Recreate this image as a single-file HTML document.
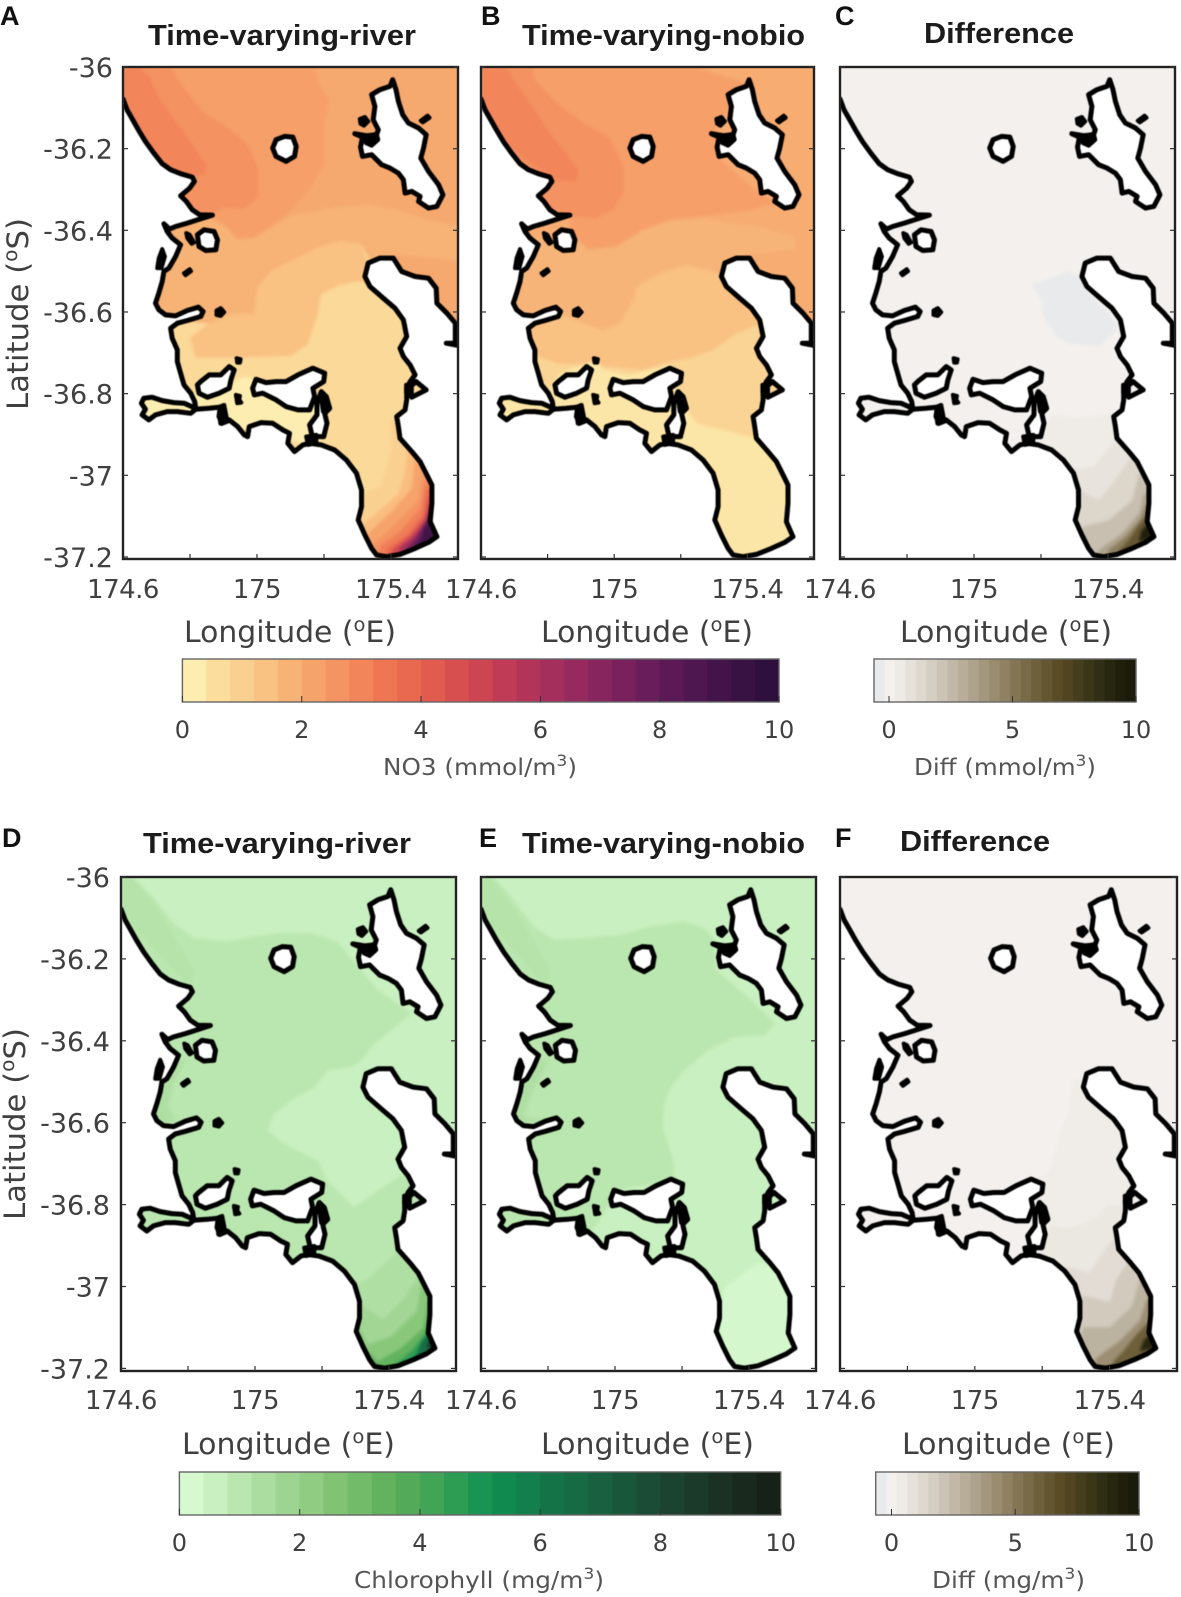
<!DOCTYPE html>
<html lang="en">
<head>
<meta charset="utf-8">
<title>NO3 and chlorophyll maps</title>
<style>
html,body{margin:0;padding:0;background:#fff;width:1181px;height:1597px;overflow:hidden}
svg{display:block}
text{font-family:"DejaVu Sans","Liberation Sans",sans-serif;fill:#404040}
.ttl{font-family:"Liberation Sans",sans-serif;font-weight:bold;font-size:29px;fill:#1c1c1c}
.let{font-family:"Liberation Sans",sans-serif;font-weight:bold;font-size:27px;fill:#111}
.axl{font-size:29px}
.cbl{font-size:23px;fill:#555}
</style>
</head>
<body>
<svg id="fig" xmlns="http://www.w3.org/2000/svg" width="1181" height="1597" viewBox="0 0 1181 1597">
<rect width="1181" height="1597" fill="#fff"/>

<text class="let" x="0" y="25">A</text>
<text class="let" x="481" y="25">B</text>
<text class="let" x="835" y="25">C</text>
<text class="let" x="2" y="847">D</text>
<text class="let" x="479" y="847">E</text>
<text class="let" x="835" y="847">F</text>

<text class="ttl" x="148" y="45" textLength="268" lengthAdjust="spacingAndGlyphs">Time-varying-river</text>
<text class="ttl" x="522" y="45" textLength="283" lengthAdjust="spacingAndGlyphs">Time-varying-nobio</text>
<text class="ttl" x="924" y="43" textLength="150" lengthAdjust="spacingAndGlyphs">Difference</text>
<text class="ttl" x="143" y="853" textLength="268" lengthAdjust="spacingAndGlyphs">Time-varying-river</text>
<text class="ttl" x="522" y="853" textLength="283" lengthAdjust="spacingAndGlyphs">Time-varying-nobio</text>
<text class="ttl" x="900" y="851" textLength="150" lengthAdjust="spacingAndGlyphs">Difference</text>

<text class="axl" transform="translate(28,410) rotate(-90)" textLength="192" lengthAdjust="spacingAndGlyphs">Latitude (<tspan font-size="19" dy="-11">o</tspan><tspan dy="11">S)</tspan></text>
<text class="axl" transform="translate(25,1220) rotate(-90)" textLength="192" lengthAdjust="spacingAndGlyphs">Latitude (<tspan font-size="19" dy="-11">o</tspan><tspan dy="11">S)</tspan></text>

<text class="axl" x="184" y="642" textLength="212" lengthAdjust="spacingAndGlyphs">Longitude (<tspan font-size="19" dy="-11">o</tspan><tspan dy="11">E)</tspan></text>
<text class="axl" x="541" y="642" textLength="212" lengthAdjust="spacingAndGlyphs">Longitude (<tspan font-size="19" dy="-11">o</tspan><tspan dy="11">E)</tspan></text>
<text class="axl" x="900" y="642" textLength="212" lengthAdjust="spacingAndGlyphs">Longitude (<tspan font-size="19" dy="-11">o</tspan><tspan dy="11">E)</tspan></text>
<text class="axl" x="182" y="1454" textLength="213" lengthAdjust="spacingAndGlyphs">Longitude (<tspan font-size="19" dy="-11">o</tspan><tspan dy="11">E)</tspan></text>
<text class="axl" x="541" y="1454" textLength="213" lengthAdjust="spacingAndGlyphs">Longitude (<tspan font-size="19" dy="-11">o</tspan><tspan dy="11">E)</tspan></text>
<text class="axl" x="902" y="1454" textLength="213" lengthAdjust="spacingAndGlyphs">Longitude (<tspan font-size="19" dy="-11">o</tspan><tspan dy="11">E)</tspan></text>

<text class="cbl" x="383" y="775" textLength="194" lengthAdjust="spacingAndGlyphs">NO3 (mmol/m<tspan font-size="16" dy="-9">3</tspan><tspan dy="9">)</tspan></text>
<text class="cbl" x="914" y="775" textLength="182" lengthAdjust="spacingAndGlyphs">Diff (mmol/m<tspan font-size="16" dy="-9">3</tspan><tspan dy="9">)</tspan></text>
<text class="cbl" x="354" y="1588" textLength="250" lengthAdjust="spacingAndGlyphs">Chlorophyll (mg/m<tspan font-size="16" dy="-9">3</tspan><tspan dy="9">)</tspan></text>
<text class="cbl" x="932" y="1588" textLength="153" lengthAdjust="spacingAndGlyphs">Diff (mg/m<tspan font-size="16" dy="-9">3</tspan><tspan dy="9">)</tspan></text>
</svg>

<script>
// ---- axis ticks ----
const latTicks = [-36, -36.2, -36.4, -36.6, -36.8, -37, -37.2];
const lonTicks = [174.8, 175, 175.2, 175.4];
const lonLabels = [174.6, 175, 175.4];
const no3Ticks = [0, 2, 4, 6, 8, 10];
const diffTicks = [0, 5, 10];

// ---- colormaps (25 discrete colorbar steps) ----
const matterColors = [[253,237,176],[251,222,158],[250,208,144],[249,193,130],[247,178,118],[246,163,107],[244,148,98],[242,133,90],[238,118,83],[233,104,80],[226,91,79],[216,79,80],[205,69,83],[192,60,86],[178,53,89],[164,47,92],[150,42,94],[135,37,94],[120,33,93],[105,29,90],[91,26,85],[78,23,79],[66,20,73],[55,18,66],[47,15,61]];
const algaeColors = [[215,249,208],[201,240,192],[186,230,175],[172,221,160],[158,212,145],[144,204,130],[129,195,115],[114,187,105],[98,178,94],[83,171,90],[66,164,87],[46,157,84],[26,148,82],[17,138,79],[18,127,76],[20,116,72],[22,106,68],[24,96,63],[26,86,58],[27,76,53],[28,67,47],[28,58,41],[27,49,35],[25,41,30],[24,33,24]];
const diffColors = [[232,234,236],[243,240,237],[238,234,229],[230,225,218],[222,216,206],[213,206,194],[203,195,181],[193,184,167],[183,173,153],[173,162,139],[163,151,125],[153,140,111],[143,129,97],[132,118,84],[121,107,71],[110,96,59],[100,86,48],[90,77,38],[80,69,32],[69,62,28],[58,54,24],[48,46,20],[39,38,15],[31,31,12],[26,27,10]];

// ---- coastline, in model-grid indices (lon = 174.6 + (i-33)*0.001, lat = -36 - (j-22)*0.000817) ----
const mainlandCoast = [[33,118],[45,150],[62,180],[80,212],[100,245],[125,280],[150,312],[175,330],[205,342],[240,352],[246,365],[232,385],[205,408],[222,425],[240,450],[262,465],[300,466],[262,478],[225,490],[190,500],[172,508],[155,492],[165,515],[180,535],[205,555],[190,590],[170,625],[155,635],[150,665],[140,700],[130,730],[140,750],[160,765],[190,768],[225,752],[258,742],[272,755],[265,770],[225,782],[195,790],[175,805],[180,835],[195,870],[195,905],[205,940],[215,975],[235,1000],[247,1025],[250,1045],[215,1030],[185,1028],[150,1022],[120,1012],[95,1015],[88,1030],[100,1048],[90,1065],[110,1080],[130,1065],[165,1055],[195,1055],[235,1060],[250,1048],[290,1045],[320,1042],[330,1040],[322,1065],[325,1090],[350,1080],[375,1100],[395,1125],[405,1130],[410,1100],[445,1088],[480,1090],[510,1110],[530,1120],[525,1150],[545,1175],[570,1155],[590,1150],[625,1155],[665,1170],[700,1200],[730,1240],[745,1290],[745,1340],[735,1380],[755,1425],[775,1465],[790,1485],[820,1490],[860,1483],[905,1465],[945,1447],[970,1430],[950,1385],[955,1330],[955,1275],[935,1235],[920,1205],[895,1175],[860,1135],[855,1100],[850,1070],[875,1050],[880,1020],[880,985],[890,965],[905,945],[890,915],[870,890],[860,865],[880,830],[870,780],[845,745],[810,715],[770,680],[755,650],[765,610],[800,595],[840,595],[865,635],[905,650],[945,655],[968,685],[970,730],[1000,760],[1025,790],[1025,850],[998,850],[1040,858]];
const waterPockets = [[[885,985],[908,965],[938,990],[895,1012]]];
const islands = [
  [[838,60],[848,90],[855,125],[868,165],[885,190],[915,205],[938,225],[930,265],[922,295],[945,335],[975,375],[988,405],[970,440],[945,445],[915,425],[920,410],[895,395],[875,400],[870,360],[855,340],[830,325],[805,315],[775,285],[748,290],[742,262],[748,232],[725,222],[760,228],[790,225],[795,210],[780,180],[785,140],[775,105],[800,90],[830,80]],
  [[490,240],[515,230],[540,232],[550,260],[545,290],[520,305],[490,290],[480,265]],
  [[255,525],[275,510],[305,515],[315,540],[310,570],[280,572],[260,560]],
  [[265,965],[290,945],[325,945],[350,920],[365,930],[355,960],[350,985],[320,1000],[285,1012],[260,1000],[255,975]],
  [[420,985],[430,958],[460,968],[490,965],[520,965],[555,945],[600,925],[635,940],[632,965],[600,985],[605,1010],[590,1050],[555,1050],[520,1040],[490,1020],[450,1000],[425,1005]],
  [[625,995],[640,1010],[650,1045],[635,1060],[642,1090],[632,1130],[598,1130],[590,1095],[612,1065],[612,1030]]
];
const rocks = [
  [[922,183],[942,168],[948,174],[928,188]],
  [[215,640],[232,628],[236,634],[220,646]],
  [[312,752],[325,745],[335,757],[325,768],[312,765]],
  [[372,895],[384,898],[382,908],[374,908]],
  [[370,1005],[382,1008],[380,1020],[386,1028],[374,1030]],
  [[740,178],[755,172],[765,185],[752,198],[742,192]],
  [[752,232],[790,222],[795,240],[775,258],[758,250]],
  [[222,520],[232,525],[245,548],[238,552],[225,535]],
  [[322,1040],[335,1035],[345,1085],[328,1092],[318,1070]],
  [[150,568],[158,590],[148,625],[135,625],[140,595]],
  [[580,1130],[610,1125],[610,1150],[585,1155]],
  [[878,975],[895,975],[895,1000],[878,998]],
  [[622,1000],[636,1005],[648,1045],[630,1055]]
];

// ---- panel A: NO3, time-varying-river ----
const fieldABase = 2.05;
const fieldAValues = [2.3,2.65,3.0,1.8,0.75,1.4,0.2,0.2,1.0,1.5,2.2,2.6,3.2,3.8,4.8,6.0,7.5,9.0];
const fieldAContours = [
  [[33,22],[609,22],[614,63],[649,123],[634,193],[634,313],[594,383],[534,453],[474,503],[424,533],[374,538],[344,503],[304,473],[33,420]],
  [[174,22],[224,98],[274,158],[344,203],[404,253],[436,323],[436,413],[394,448],[334,443],[294,463],[33,420],[33,22]],
  [[79,22],[114,53],[134,103],[174,163],[224,233],[284,318],[274,345],[180,350],[33,200],[33,22]],
  [[290,480],[344,503],[374,538],[424,533],[474,503],[534,468],[664,443],[764,433],[864,453],[934,478],[1034,498],[1034,603],[934,593],[844,583],[780,620],[830,680],[900,780],[960,1000],[1040,1530],[33,1530],[33,480]],
  [[33,780],[150,780],[290,790],[354,763],[424,760],[434,683],[474,633],[534,603],[614,563],[684,543],[744,553],[780,620],[830,680],[900,780],[960,1000],[1040,1530],[33,1530]],
  [[534,603],[614,563],[684,543],[744,553],[760,600],[760,680],[749,663],[684,673],[624,703],[614,763],[584,853],[534,888],[374,893],[249,893],[234,833],[290,790],[354,763],[424,760],[434,683],[474,633]],
  [[250,1000],[300,1020],[370,960],[400,950],[430,960],[600,1000],[650,1100],[600,1170],[500,1120],[330,1100],[250,1060]],
  [[85,1000],[250,1000],[250,1070],[85,1090]],
  [[829,1083],[834,1163],[804,1278],[744,1303],[700,1530],[1040,1530],[1040,1083]],
  [[884,1158],[874,1243],[854,1303],[774,1373],[749,1393],[749,1530],[1040,1530],[1040,1158]],
  [[905,1200],[895,1285],[840,1350],[765,1420],[760,1530],[1040,1530],[1040,1200]],
  [[929,1243],[914,1323],[834,1403],[779,1453],[784,1530],[1040,1530],[1040,1243]],
  [[935,1268],[922,1345],[860,1415],[800,1458],[795,1530],[1040,1530],[1040,1268]],
  [[939,1288],[929,1363],[884,1423],[824,1463],[804,1530],[1040,1530],[1040,1288]],
  [[945,1312],[932,1375],[892,1426],[840,1466],[818,1530],[1040,1530],[1040,1312]],
  [[949,1333],[936,1383],[900,1428],[860,1462],[840,1530],[1040,1530],[1040,1333]],
  [[950,1355],[932,1392],[908,1432],[878,1466],[860,1530],[1040,1530],[1040,1355]],
  [[950,1378],[932,1402],[920,1438],[900,1462],[890,1530],[1040,1530],[1040,1378]]
];

// ---- panel B: NO3, time-varying-nobio ----
const fieldBBase = 1.95;
const fieldBValues = [2.3,2.65,3.0,1.75,1.4,0.9,0.4];
const fieldBContours = [
  [[33,22],[680,22],[760,50],[830,70],[740,200],[740,290],[870,400],[920,430],[850,450],[700,470],[600,480],[520,510],[440,560],[360,570],[300,520],[300,470],[33,400]],
  [[190,22],[190,55],[260,130],[340,190],[420,235],[460,320],[460,400],[430,450],[380,475],[300,470],[33,400],[33,22]],
  [[110,22],[130,60],[180,130],[240,220],[325,330],[320,365],[250,360],[33,200],[33,22]],
  [[305,520],[350,570],[440,560],[520,510],[600,485],[700,475],[780,490],[860,500],[975,530],[978,570],[850,582],[780,600],[830,680],[900,780],[960,1000],[1040,1530],[33,1530],[33,560]],
  [[33,760],[270,760],[340,790],[400,810],[450,790],[490,720],[500,680],[570,640],[650,615],[750,640],[830,680],[900,780],[960,1000],[1040,1530],[33,1530]],
  [[33,880],[180,880],[260,910],[360,915],[520,930],[600,905],[660,895],[730,870],[800,820],[900,780],[960,1000],[1040,1530],[33,1530]],
  [[33,1000],[230,1000],[270,940],[380,900],[400,930],[480,945],[600,915],[630,1000],[660,1060],[680,1090],[760,1110],[860,1135],[1040,1200],[1040,1530],[33,1530]]
];

// ---- panel C: NO3 difference ----
const fieldCBase = 0.03;
const fieldCValues = [-0.39,0.4,0.8,1.4,2.3,3.4,4.8,6.4,9.4];
const fieldCContours = [
  [[606,675],[656,660],[716,635],[756,660],[766,690],[861,790],[856,810],[806,860],[716,850],[676,825],[641,770],[636,720]],
  [[666,1065],[736,1075],[860,1065],[1040,1065],[1040,1530],[700,1530],[620,1170]],
  [[856,1140],[791,1220],[726,1230],[700,1530],[1040,1530],[1040,1140]],
  [[901,1190],[856,1260],[806,1320],[746,1290],[720,1530],[1040,1530],[1040,1190]],
  [[926,1240],[906,1320],[836,1380],[756,1400],[740,1530],[1040,1530],[1040,1240]],
  [[941,1300],[926,1360],[876,1420],[806,1470],[790,1530],[1040,1530],[1040,1300]],
  [[947,1335],[930,1378],[885,1430],[835,1470],[825,1530],[1040,1530],[1040,1335]],
  [[951,1365],[925,1395],[895,1440],[868,1470],[860,1530],[1040,1530],[1040,1365]],
  [[951,1392],[933,1412],[925,1445],[975,1435],[1040,1400]]
];

// ---- panel D: chlorophyll, time-varying-river ----
const fieldDBase = 0.6;
const fieldDValues = [1.0,1.15,1.3,0.6,1.3,1.7,2.4,3.4,4.6,6.5,9.0];
const fieldDContours = [
  [[33,22],[70,22],[130,85],[190,160],[250,205],[350,215],[430,200],[500,190],[600,190],[680,215],[740,290],[800,360],[900,430],[850,470],[790,520],[750,570],[780,620],[830,680],[900,780],[960,1000],[1040,1530],[33,1530]],
  [[33,22],[60,22],[130,100],[180,180],[250,300],[240,350],[33,130]],
  [[225,570],[190,640],[175,710],[200,750],[130,760],[130,570]],
  [[750,570],[720,590],[650,600],[610,650],[540,690],[490,730],[470,780],[520,820],[620,870],[650,930],[730,1010],[800,960],[890,900],[950,900],[900,760],[780,600]],
  [[870,1130],[780,1215],[730,1250],[700,1530],[1040,1530],[1040,1130]],
  [[925,1210],[880,1280],[815,1345],[750,1300],[720,1530],[1040,1530],[1040,1210]],
  [[930,1230],[915,1320],[840,1395],[770,1420],[745,1370],[730,1530],[1040,1530],[1040,1230]],
  [[950,1290],[935,1370],[870,1430],[800,1470],[770,1440],[760,1530],[1040,1530],[1040,1290]],
  [[960,1330],[945,1385],[900,1440],[850,1480],[830,1530],[1040,1530],[1040,1330]],
  [[958,1375],[930,1410],[915,1450],[890,1480],[880,1530],[1040,1530],[1040,1375]],
  [[960,1400],[945,1425],[970,1440],[1040,1440],[1040,1400]]
];

// ---- panel E: chlorophyll, time-varying-nobio ----
const fieldEBase = 0.6;
const fieldEValues = [1.0,1.15,1.3,0.28];
const fieldEContours = [
  [[33,22],[70,22],[130,90],[190,170],[250,210],[350,205],[450,195],[540,170],[640,155],[700,175],[725,205],[735,300],[860,410],[910,460],[880,495],[790,500],[710,540],[640,600],[600,650],[580,700],[575,770],[595,830],[610,890],[610,930],[420,960],[415,1000],[380,1060],[330,1110],[33,1200]],
  [[33,22],[60,22],[120,100],[170,180],[240,300],[230,350],[33,130]],
  [[235,570],[210,620],[175,690],[160,740],[240,745],[130,760],[130,570]],
  [[860,1175],[800,1220],[760,1250],[745,1300],[700,1530],[1040,1530],[1040,1175]]
];

// ---- panel F: chlorophyll difference ----
const fieldFBase = 0.03;
const fieldFValues = [0.25,0.6,1.1,1.9,2.8,4.2,6.0,9.0];
const fieldFContours = [
  [[723,621],[713,724],[683,785],[658,898],[613,922],[600,1000],[620,1200],[640,1530],[1040,1530],[960,1000],[900,780],[780,640]],
  [[823,1001],[793,1042],[713,1073],[658,1063],[620,1170],[700,1530],[1040,1530],[1040,1001]],
  [[863,1082],[813,1143],[773,1205],[703,1185],[690,1530],[1040,1530],[1040,1082]],
  [[898,1158],[853,1225],[833,1293],[753,1272],[720,1530],[1040,1530],[1040,1158]],
  [[923,1225],[898,1307],[833,1368],[753,1368],[740,1530],[1040,1530],[1040,1225]],
  [[943,1286],[923,1348],[863,1409],[793,1460],[780,1530],[1040,1530],[1040,1286]],
  [[953,1348],[913,1389],[873,1440],[843,1471],[840,1530],[1040,1530],[1040,1348]],
  [[953,1389],[933,1409],[923,1440],[973,1430],[1040,1400]]
];

const NS = 'http://www.w3.org/2000/svg';
const fig = document.getElementById('fig');

function make(parent, tag, attrs, txt) {
  const e = document.createElementNS(NS, tag);
  for (const k in attrs) e.setAttribute(k, attrs[k]);
  if (txt !== undefined) e.textContent = txt;
  parent.appendChild(e);
  return e;
}
function colorFor(value, colors, vmin, vmax) {
  const f = Math.max(0, Math.min(colors.length - 1, (value - vmin) / (vmax - vmin) * colors.length - 0.5));
  const i = Math.floor(f), j = Math.min(colors.length - 1, i + 1), t = f - i;
  const c = colors[i].map((v, k) => Math.round(v + (colors[j][k] - v) * t));
  return 'rgb(' + c.join(',') + ')';
}
const gridLon = g => 174.6 + (g - 33) * 0.001;
const gridLat = g => -36 - (g - 22) * 0.000817;

function drawPanel(p) {
  const xAxis = lon => p.left + (lon - 174.6) * (p.right - p.left);
  const yAxis = lat => p.yTop + (-36 - lat) * p.pxPerDeg;
  const pathOf = (pts, close) => pts.map((q, i) => (i ? 'L' : 'M') + xAxis(gridLon(q[0])).toFixed(1) + ' ' + yAxis(gridLat(q[1])).toFixed(1)).join('') + (close ? 'Z' : '');

  const clip = make(fig, 'clipPath', {id: 'clip-' + p.id});
  make(clip, 'rect', {x: p.left, y: p.yTop, width: p.right - p.left, height: p.bottom - p.yTop});

  const g = make(fig, 'g', {'clip-path': 'url(#clip-' + p.id + ')'});
  
  

  const field = make(g, 'g', {style: 'filter:blur(1.6px)'});
  
  

  const base = make(field, 'rect', {x: p.left - 10, y: p.yTop - 10, width: p.right - p.left + 20, height: p.bottom - p.yTop + 20, fill: colorFor(p.base, p.colors, p.vmin, p.vmax)});
  
  

  p.contours.forEach((pts, i) => {
    const band = make(field, 'path', {d: pathOf(pts, true), fill: colorFor(p.values[i], p.colors, p.vmin, p.vmax)});
    
    
  });

  const shore = make(g, 'g', {style: 'filter:blur(0.5px)'});
  
  

  const closure = [[1040, 1530], [20, 1530], [20, 118]];
  const land = make(shore, 'path', {d: pathOf(mainlandCoast.concat(closure), true) + waterPockets.map(w => pathOf(w, true)).join(''), fill: '#fff', 'fill-rule': 'evenodd'});
  
  

  const line = make(shore, 'path', {d: pathOf(mainlandCoast, false) + waterPockets.map(w => pathOf(w, true)).join(''), fill: 'none', stroke: '#000', 'stroke-width': 5, 'stroke-linejoin': 'round', 'stroke-linecap': 'round'});
  
  

  islands.forEach(pts => {
    const isl = make(shore, 'path', {d: pathOf(pts, true), fill: '#fff', stroke: '#000', 'stroke-width': 5, 'stroke-linejoin': 'round'});
    
    
  });
  rocks.forEach(pts => {
    const rock = make(shore, 'path', {d: pathOf(pts, true), fill: '#000', stroke: '#000', 'stroke-width': 4, 'stroke-linejoin': 'round'});
    
    
  });

  const frame = make(fig, 'rect', {x: p.left, y: p.yTop, width: p.right - p.left, height: p.bottom - p.yTop, fill: 'none', stroke: '#222', 'stroke-width': 2.4});
  
  

  lonTicks.forEach(v => {
    const t1 = make(fig, 'line', {x1: xAxis(v), x2: xAxis(v), y1: p.bottom, y2: p.bottom - 5, stroke: '#333', 'stroke-width': 1.2});
    
    
  });
  lonLabels.forEach(v => {
    const t2 = make(fig, 'text', {x: xAxis(v), y: p.xLabelY, 'text-anchor': 'middle', 'font-size': 26, 'letter-spacing': -0.5}, String(v));
    
    
  });
  latTicks.forEach(v => {
    const t3 = make(fig, 'line', {x1: p.left, x2: p.left + 5, y1: yAxis(v), y2: yAxis(v), stroke: '#333', 'stroke-width': 1.2});
    
    
    const t4 = make(fig, 'line', {x1: p.right, x2: p.right - 5, y1: yAxis(v), y2: yAxis(v), stroke: '#333', 'stroke-width': 1.2});
    
    
    if (p.yLabels) {
      const t5 = make(fig, 'text', {x: p.yLabelX, y: yAxis(v) + 10, 'text-anchor': 'end', 'font-size': 27}, String(v));
      
      
    }
  });
}

function drawColorbar(c) {
  const xAxis = v => c.zeroX + v * (c.tenX - c.zeroX) / 10;
  const g = make(fig, 'g', {});
  
  
  const w = (c.right - c.left) / c.colors.length;
  c.colors.forEach((col, i) => {
    const r = make(g, 'rect', {x: c.left + i * w, y: c.top, width: w + 0.4, height: c.bottom - c.top, fill: 'rgb(' + col.join(',') + ')'});
    
    
  });
  const fr = make(g, 'rect', {x: c.left, y: c.top, width: c.right - c.left, height: c.bottom - c.top, fill: 'none', stroke: '#666', 'stroke-width': 1.4});
  
  
  c.ticks.forEach(v => {
    const t = make(g, 'line', {x1: xAxis(v), x2: xAxis(v), y1: c.bottom, y2: c.bottom - 6, stroke: '#333', 'stroke-width': 1});
    
    
    const l = make(g, 'text', {x: xAxis(v), y: c.labelY, 'text-anchor': 'middle', 'font-size': 24, fill: '#444'}, String(v));
    
    
  });
}

drawPanel({id:'a', left:123, right:458, yTop:67, pxPerDeg:408.3, bottom:559, xLabelY:598, yLabels:true, yLabelX:113, base:fieldABase, values:fieldAValues, contours:fieldAContours, colors:matterColors, vmin:0, vmax:10});
drawPanel({id:'b', left:481, right:814, yTop:67, pxPerDeg:408.3, bottom:559, xLabelY:598, yLabels:false, base:fieldBBase, values:fieldBValues, contours:fieldBContours, colors:matterColors, vmin:0, vmax:10});
drawPanel({id:'c', left:840, right:1175, yTop:67, pxPerDeg:408.3, bottom:559, xLabelY:598, yLabels:false, base:fieldCBase, values:fieldCValues, contours:fieldCContours, colors:diffColors, vmin:-0.6, vmax:10});
drawPanel({id:'d', left:121, right:456, yTop:877, pxPerDeg:409.5, bottom:1371, xLabelY:1409, yLabels:true, yLabelX:110, base:fieldDBase, values:fieldDValues, contours:fieldDContours, colors:algaeColors, vmin:0, vmax:10});
drawPanel({id:'e', left:481, right:816, yTop:877, pxPerDeg:409.5, bottom:1371, xLabelY:1409, yLabels:false, base:fieldEBase, values:fieldEValues, contours:fieldEContours, colors:algaeColors, vmin:0, vmax:10});
drawPanel({id:'f', left:840, right:1177, yTop:877, pxPerDeg:409.5, bottom:1371, xLabelY:1409, yLabels:false, base:fieldFBase, values:fieldFValues, contours:fieldFContours, colors:diffColors, vmin:-0.6, vmax:10});

drawColorbar({id:'no3', left:182.4, right:779, top:659, bottom:702, zeroX:182.4, tenX:779, labelY:738, ticks:no3Ticks, colors:matterColors});
drawColorbar({id:'diff-no3', left:874, right:1136, top:659, bottom:702, zeroX:889, tenX:1136, labelY:738, ticks:diffTicks, colors:diffColors});
drawColorbar({id:'chlorophyll', left:179.4, right:780.7, top:1472, bottom:1515, zeroX:179.4, tenX:780.7, labelY:1551, ticks:no3Ticks, colors:algaeColors});
drawColorbar({id:'diff-chlorophyll', left:875.7, right:1139, top:1472, bottom:1515, zeroX:891.5, tenX:1139, labelY:1551, ticks:diffTicks, colors:diffColors});
</script>
</body>
</html>
